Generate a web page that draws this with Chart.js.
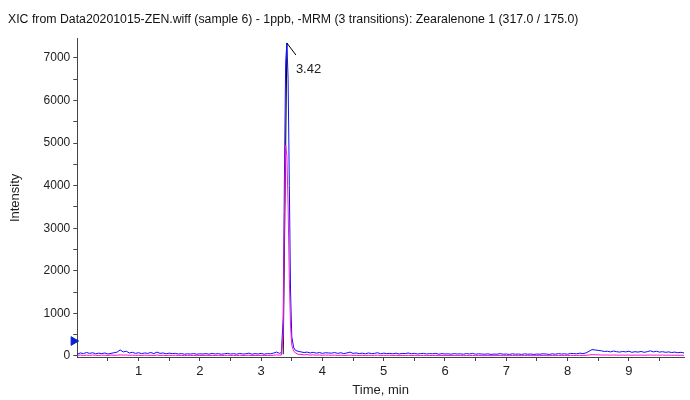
<!DOCTYPE html>
<html>
<head>
<meta charset="utf-8">
<script src="https://cdn.jsdelivr.net/npm/chart.js@4/dist/chart.umd.min.js"></script>
<style>
  html, body { margin: 0; padding: 0; background: #fff; }
  #wrap { width: 690px; height: 400px; }
</style>
</head>
<body>
<div id="wrap"><canvas id="xic"></canvas></div>
<script>
// Tiempos (min)
const times = [
  0.00,0.05,0.10,0.15,0.20,0.25,0.30,0.35,0.40,0.45,
  0.50,0.55,0.60,0.65,0.70,0.75,0.80,0.85,0.90,0.95,
  1.00,1.05,1.10,1.15,1.20,1.25,1.30,1.35,1.40,1.45,
  1.50,1.55,1.60,1.65,1.70,1.75,1.80,1.85,1.90,1.95,
  2.00,2.05,2.10,2.15,2.20,2.25,2.30,2.35,2.40,2.45,
  2.50,2.55,2.60,2.65,2.70,2.75,2.80,2.85,2.90,2.95,
  3.00,3.05,3.10,3.15,3.20,3.25,3.30,
  3.33,3.36,3.38,3.40,3.42,3.44,3.46,3.48,3.50,3.53,3.56,3.60,
  3.65,3.70,3.75,3.80,3.85,3.90,3.95,4.00,4.05,4.10,
  4.15,4.20,4.25,4.30,4.35,4.40,4.45,4.50,4.55,4.60,
  4.65,4.70,4.75,4.80,4.85,4.90,4.95,5.00,5.05,5.10,
  5.15,5.20,5.25,5.30,5.35,5.40,5.45,5.50,5.55,5.60,
  5.65,5.70,5.75,5.80,5.85,5.90,5.95,6.00,6.05,6.10,
  6.15,6.20,6.25,6.30,6.35,6.40,6.45,6.50,6.55,6.60,
  6.65,6.70,6.75,6.80,6.85,6.90,6.95,7.00,7.05,7.10,
  7.15,7.20,7.25,7.30,7.35,7.40,7.45,7.50,7.55,7.60,
  7.65,7.70,7.75,7.80,7.85,7.90,7.95,8.00,8.05,8.10,
  8.15,8.20,8.25,8.30,8.35,8.40,8.45,8.50,8.55,8.60,
  8.65,8.70,8.75,8.80,8.85,8.90,8.95,9.00,9.05,9.10,
  9.15,9.20,9.25,9.30,9.35,9.40,9.45,9.50,9.55,9.60,
  9.65,9.70,9.75,9.80,9.85,9.90
];

// Traza azul (317.0 / 175.0)
const blueTrace = [
  40,70,55,80,60,75,50,65,55,70,
  45,60,75,90,140,95,110,70,85,60,
  75,55,70,60,80,55,90,60,70,50,
  65,55,60,45,55,40,50,45,55,40,
  50,45,55,40,60,45,55,40,50,60,
  45,55,40,60,45,50,65,40,55,45,
  60,40,55,50,65,90,60,
  80,900,4200,6900,7350,6500,4000,1500,450,200,130,110,
  95,80,90,70,85,65,80,60,75,70,
  65,80,60,75,55,70,90,60,70,55,
  65,50,70,55,60,75,50,65,55,60,
  50,65,45,60,55,70,50,60,45,55,
  60,45,55,50,60,40,55,45,50,40,
  55,45,50,40,55,45,60,40,50,45,
  40,50,35,45,40,55,40,45,35,50,
  40,45,35,50,40,45,35,45,40,50,
  45,35,50,40,55,45,50,40,60,55,
  50,65,55,70,110,150,140,130,120,105,
  110,95,115,100,90,105,95,110,85,100,
  90,105,85,100,120,95,110,90,100,85,
  95,80,90,75,85,70
];

// Traza magenta
const pinkTrace = [
  15,20,10,18,12,20,15,10,18,14,
  12,20,15,18,25,20,22,15,18,12,
  15,10,18,12,16,10,20,12,15,10,
  14,12,15,10,12,8,14,10,12,8,
  12,10,14,8,12,10,14,8,12,15,
  10,12,8,14,10,12,15,8,12,10,
  14,10,12,10,15,25,18,
  20,500,3300,4950,4700,3500,1800,700,250,120,70,40,
  35,25,30,20,25,18,22,15,20,18,
  15,20,12,18,10,15,20,12,15,10,
  14,10,15,12,14,18,10,14,12,15,
  10,14,8,12,10,15,10,12,8,10,
  12,8,10,10,12,8,10,8,10,8,
  10,8,10,6,10,8,12,6,10,8,
  8,10,6,8,8,10,6,8,6,10,
  8,8,6,10,8,8,6,8,8,10,
  8,6,10,8,12,10,10,8,12,12,
  10,14,12,15,22,30,28,25,22,20,
  22,18,22,20,18,20,18,22,16,20,
  18,20,16,20,22,18,20,18,20,16,
  18,15,18,14,16,14
];

// Marcas de los ejes
const xTicks = [0.5,1,1.5,2,2.5,3,3.5,4,4.5,5,5.5,6,6.5,7,7.5,8,8.5,9,9.5];
const yTicks = [0,500,1000,1500,2000,2500,3000,3500,4000,4500,5000,5500,6000,6500,7000];

// Pico marcado
const peakTime = 3.42;
const peakTop = 7350;
const peakStart = 3.36;
const peakLabel = '3.42';
const markerLevel = 350;

const FONT = '"Liberation Sans", Arial, sans-serif';

const toPoints = vals => vals.map((v, i) => ({ x: times[i], y: v }));

const labelPlugin = {
  id: 'peakLabel',
  afterDatasetsDraw(chart) {
    const { ctx, scales: { x, y } } = chart;
    const px = x.getPixelForValue(peakTime), py = y.getPixelForValue(peakTop);
    ctx.save();
    ctx.strokeStyle = '#000';
    ctx.lineWidth = 1;
    ctx.beginPath();
    ctx.moveTo(px, py);
    ctx.lineTo(px + 9, py + 12);
    ctx.stroke();
    ctx.fillStyle = '#222';
    ctx.font = '13px ' + FONT;
    ctx.textBaseline = 'alphabetic';
    ctx.fillText(peakLabel, px + 9, py + 30);
    ctx.restore();
  }
};

new Chart(document.getElementById('xic'), {
  type: 'line',
  data: {
    datasets: [
      { data: toPoints(blueTrace), borderColor: '#1010ff', borderWidth: 1, pointRadius: 0, tension: 0, order: 2 },
      { data: toPoints(pinkTrace), borderColor: '#ff10d0', borderWidth: 1, pointRadius: 0, tension: 0, order: 1 },
      { data: [{ x: peakStart, y: 40 }, { x: peakTime, y: peakTop }], borderColor: '#000', borderWidth: 1, pointRadius: 0, order: 3 },
      { data: [{ x: -0.06, y: markerLevel }], showLine: false, pointStyle: 'triangle', rotation: 90,
        pointRadius: 5, backgroundColor: '#0a20d0', borderColor: '#0a20d0', clip: false, order: 0 }
    ]
  },
  options: {
    responsive: true,
    maintainAspectRatio: false,
    animation: false,
    layout: { padding: { left: 8, right: 2, top: 2, bottom: 0 } },
    plugins: {
      legend: { display: false },
      tooltip: { enabled: false },
      title: {
        display: true,
        align: 'start',
        text: 'XIC from Data20201015-ZEN.wiff (sample 6) - 1ppb, -MRM (3 transitions): Zearalenone 1 (317.0 / 175.0)',
        color: '#111',
        font: { family: FONT, size: 12.3, weight: 'normal' },
        padding: { top: 10, bottom: 12 }
      }
    },
    scales: {
      x: {
        type: 'linear',
        min: 0,
        max: 9.9,
        border: { color: '#444', width: 1 },
        grid: { drawOnChartArea: false, drawTicks: true, tickLength: 4, color: '#444' },
        afterBuildTicks: s => { s.ticks = xTicks.map(v => ({ value: v })); },
        ticks: {
          autoSkip: false,
          maxRotation: 0,
          padding: 3,
          color: '#222',
          font: { family: FONT, size: 13 },
          callback: v => Number.isInteger(v) ? String(v) : ''
        },
        title: { display: true, text: 'Time, min', color: '#222', font: { family: FONT, size: 13 }, padding: { top: 0, bottom: 2 } },
        afterFit: s => { s.height = 43; }
      },
      y: {
        min: -25,
        max: 7450,
        border: { color: '#444', width: 1 },
        grid: { drawOnChartArea: false, drawTicks: true, tickLength: 4, color: '#444' },
        afterBuildTicks: s => { s.ticks = yTicks.map(v => ({ value: v })); },
        ticks: {
          autoSkip: false,
          padding: 3,
          color: '#222',
          font: { family: FONT, size: 12 },
          callback: v => (v % 1000 === 0) ? String(v) : ''
        },
        title: { display: true, text: 'Intensity', color: '#222', font: { family: FONT, size: 13 }, padding: { top: 0, bottom: 17 } }
      }
    }
  },
  plugins: [labelPlugin]
});
</script>
</body>
</html>
